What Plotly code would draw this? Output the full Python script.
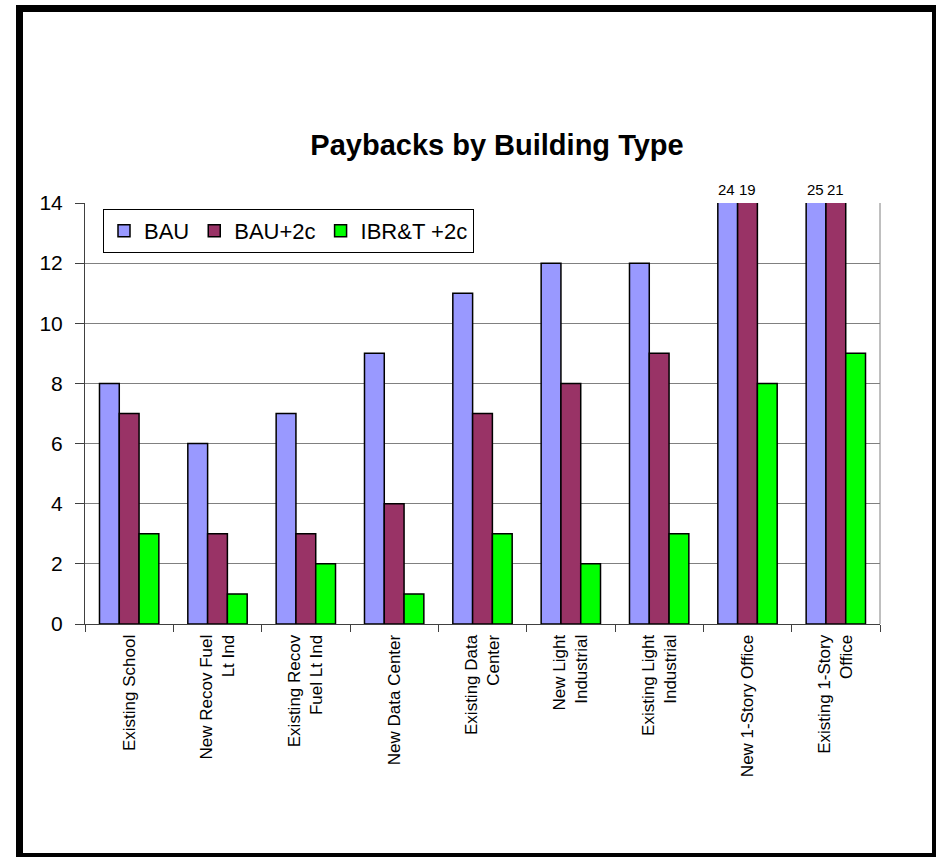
import plotly.graph_objects as go

categories = [
    "Existing School",
    "New Recov Fuel<br>Lt Ind",
    "Existing Recov<br>Fuel Lt Ind",
    "New Data Center",
    "Existing Data<br>Center",
    "New Light<br>Industrial",
    "Existing Light<br>Industrial",
    "New 1-Story Office",
    "Existing 1-Story<br>Office",
]
bau = [8, 6, 7, 9, 11, 12, 12, 24, 25]
bau_2c = [7, 3, 3, 4, 7, 8, 9, 19, 21]
ibrt_2c = [3, 1, 2, 1, 3, 2, 3, 8, 9]
series_names = ["BAU", "BAU+2c", "IBR&T +2c"]
series_colors = ["#9999FF", "#993366", "#00FF00"]
y_tickvals = [0, 2, 4, 6, 8, 10, 12, 14]

W, H = 936, 857
ML, MR, MT, MB = 85, 56, 203, 233
YMAX = 14
BARGAP = 0.328

REG = "Liberation Sans, Arial, sans-serif"

fig = go.Figure()
for name, vals, col in zip(series_names, [bau, bau_2c, ibrt_2c], series_colors):
    fig.add_trace(go.Bar(
        x=categories, y=vals, name=name,
        marker=dict(color=col, line=dict(color="black", width=1.5)),
    ))

# labels for values exceeding the axis maximum
plot_w = W - ML - MR
cat_px = plot_w / len(categories)
bar_px = cat_px * (1 - BARGAP) / 3
annos = []
for si, vals in enumerate([bau, bau_2c, ibrt_2c]):
    for c, v in zip(categories, vals):
        if v > YMAX:
            annos.append(dict(
                x=c, y=YMAX, xref="x", yref="y", text=str(v), showarrow=False,
                xshift=(si - 1) * (bar_px + 1), yanchor="bottom", yshift=3,
                font=dict(family=REG, size=15, color="black"),
            ))

def px2px(x):
    return (x - ML) / plot_w

def py2py(y):
    return (H - MB - y) / (H - MT - MB)

shapes = [
    # right plot border
    dict(type="line", xref="paper", yref="paper", x0=1, x1=1, y0=0, y1=1,
         line=dict(color="#808080", width=1)),
    # outer chart border
    dict(type="rect", xref="paper", yref="paper",
         x0=px2px(19.5), x1=px2px(935.5), y0=py2py(856.5), y1=py2py(8.5),
         line=dict(color="black", width=7), layer="above"),
]

fig.update_layout(
    width=W, height=H,
    margin=dict(l=ML, r=MR, t=MT, b=MB, pad=0),
    paper_bgcolor="white", plot_bgcolor="white",
    barmode="group", bargap=BARGAP, bargroupgap=0,
    title=dict(text="<b>Paybacks by Building Type</b>", x=497 / W, xref="container",
               xanchor="center", y=1 - 145 / H, yref="container", yanchor="middle",
               font=dict(family=REG, size=29, color="black")),
    legend=dict(orientation="h", x=px2px(103), y=py2py(209), xanchor="left", yanchor="top",
                bgcolor="white", bordercolor="black", borderwidth=1,
                font=dict(family=REG, size=22, color="black"),
                itemwidth=30, tracegroupgap=0),
    xaxis=dict(type="category", tickson="boundaries", ticks="outside", ticklen=7,
               tickcolor="#404040", showline=True, linecolor="#404040", linewidth=1,
               tickangle=-90, showgrid=False, ticklabelstandoff=3,
               tickfont=dict(family=REG, size=17, color="black")),
    yaxis=dict(range=[0, YMAX], tickvals=y_tickvals, ticks="outside", ticklen=9,
               tickcolor="#404040", showline=True, linecolor="#404040", linewidth=1,
               showgrid=True, gridcolor="#808080", gridwidth=1, zeroline=False,
               ticklabelstandoff=8,
               tickfont=dict(family=REG, size=21, color="black")),
    annotations=annos,
    shapes=shapes,
    showlegend=True,
)

fig.write_html("out.html", config={"displayModeBar": False},
               post_script="document.body.style.margin='0';")
